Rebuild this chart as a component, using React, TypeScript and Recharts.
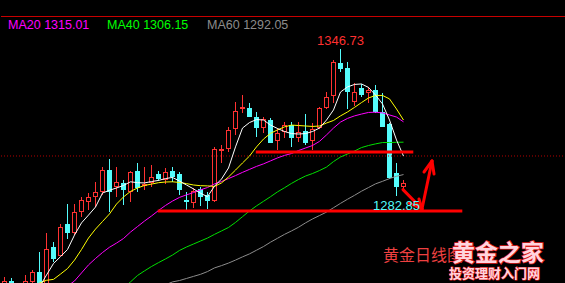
import { Bar, ComposedChart, Line, ReferenceDot, ReferenceLine, XAxis, YAxis } from "recharts";

const RED = "#ff3232";
const CYAN = "#54fcfc";

// daily candles, oldest first
const open = [
  1244.0, 1245.9, 1242.0, 1243.5, 1245.4, 1249.6, 1243.1, 1260.4, 1256.7, 1270.5,
  1266.7, 1275.8, 1280.3, 1282.4, 1284.4, 1294.1, 1286.8, 1288.3, 1284.6, 1293.8,
  1287.2, 1288.3, 1292.3, 1289.7, 1293.6, 1292.2, 1281.0, 1279.8, 1285.6, 1283.2,
  1280.7, 1302.5, 1303.1, 1311.8, 1320.5, 1320.9, 1317.3, 1312.2, 1315.8, 1306.8,
  1310.7, 1313.6, 1307.8, 1311.2, 1306.8, 1312.2, 1320.9, 1326.1, 1340.6, 1338.3,
  1323.5, 1329.6, 1327.4, 1328.9, 1319.4, 1314.1, 1292.9, 1286.5,
];
const high = [
  1247.6, 1247.0, 1244.0, 1248.3, 1250.5, 1258.3, 1266.7, 1262.7, 1270.5, 1279.3,
  1279.3, 1282.4, 1284.2, 1289.0, 1295.2, 1298.9, 1295.2, 1289.7, 1293.8, 1297.0,
  1295.2, 1296.2, 1293.6, 1294.9, 1295.2, 1293.2, 1284.6, 1286.1, 1286.8, 1284.6,
  1304.2, 1304.9, 1312.9, 1323.8, 1326.7, 1323.3, 1319.3, 1317.3, 1316.6, 1312.2,
  1315.1, 1315.1, 1315.1, 1318.4, 1314.6, 1321.6, 1328.1, 1341.9, 1346.73, 1341.2,
  1331.8, 1331.5, 1330.1, 1331.1, 1327.7, 1314.5, 1297.2, 1289.7,
];
const low = [
  1242.7, 1241.8, 1240.5, 1242.2, 1244.4, 1241.8, 1242.2, 1254.0, 1256.4, 1264.0,
  1265.8, 1273.7, 1276.6, 1278.1, 1283.2, 1275.9, 1282.4, 1278.8, 1280.0, 1284.6,
  1285.4, 1286.8, 1289.2, 1288.0, 1289.0, 1283.2, 1276.6, 1277.4, 1278.4, 1276.9,
  1280.3, 1297.2, 1302.0, 1309.3, 1318.7, 1316.9, 1308.6, 1310.3, 1305.7, 1302.7,
  1307.8, 1303.9, 1306.4, 1304.9, 1302.7, 1311.8, 1320.5, 1323.1, 1336.8, 1320.6,
  1321.9, 1326.0, 1323.3, 1319.0, 1312.6, 1290.0, 1282.85, 1285.0,
];
const close = [
  1245.9, 1243.1, 1243.2, 1245.7, 1249.6, 1242.7, 1259.6, 1255.3, 1269.1, 1266.7,
  1275.6, 1281.0, 1282.2, 1284.4, 1294.1, 1284.6, 1289.0, 1285.4, 1293.1, 1286.1,
  1288.0, 1291.1, 1290.1, 1293.3, 1291.1, 1285.4, 1280.0, 1284.9, 1282.4, 1280.7,
  1303.2, 1303.2, 1311.5, 1319.7, 1321.3, 1317.3, 1312.2, 1316.1, 1305.9, 1310.3,
  1313.6, 1307.8, 1310.7, 1305.9, 1311.9, 1320.9, 1326.0, 1341.1, 1337.9, 1328.1,
  1327.9, 1326.7, 1328.9, 1319.4, 1312.9, 1290.4, 1286.5, 1288.5,
];

const ma5 = [
  null, null, null, null, null, 1243.1, 1248.3, 1253.3, 1256.3, 1259.4,
  1265.7, 1271.0, 1274.4, 1277.9, 1284.0, 1285.2, 1286.2, 1287.3, 1288.9, 1288.5,
  1288.4, 1289.0, 1289.5, 1290.3, 1290.8, 1289.2, 1287.5, 1285.8, 1283.9, 1282.4,
  1287.0, 1290.1, 1294.9, 1304.1, 1312.3, 1314.7, 1316.0, 1315.8, 1313.6, 1312.1,
  1310.8, 1309.9, 1309.7, 1309.9, 1310.8, 1312.3, 1315.8, 1320.2, 1328.0, 1330.2,
  1331.3, 1331.5, 1330.0, 1326.7, 1322.8, 1315.8, 1307.1, 1300.1,
];
const ma10 = [
  null, null, null, null, 1243.5, 1244.8, 1246.0, 1246.4, 1248.7, 1251.1,
  1254.8, 1259.4, 1264.4, 1268.3, 1271.6, 1274.9, 1279.2, 1282.3, 1284.7, 1286.2,
  1287.3, 1287.9, 1288.5, 1288.8, 1288.9, 1288.6, 1288.1, 1287.5, 1287.2, 1287.1,
  1286.9, 1288.4, 1291.0, 1294.0, 1297.1, 1300.1, 1304.1, 1307.5, 1310.0, 1311.5,
  1312.8, 1313.6, 1313.4, 1313.2, 1313.0, 1313.2, 1314.5, 1315.6, 1317.6, 1319.3,
  1321.3, 1323.4, 1325.4, 1326.5, 1326.5, 1325.0, 1320.6, 1315.8,
];
const ma20 = [
  null, null, null, null, null, null, null, null, null, 1243.5,
  1245.7, 1249.2, 1252.7, 1255.5, 1258.1, 1260.4, 1262.2, 1264.2, 1267.0, 1269.4,
  1271.8, 1274.0, 1276.4, 1278.6, 1280.5, 1282.1, 1283.2, 1284.2, 1285.4, 1286.4,
  1288.0, 1289.0, 1290.3, 1291.6, 1293.0, 1294.3, 1295.6, 1296.7, 1298.0, 1299.3,
  1300.4, 1301.2, 1302.5, 1303.6, 1304.7, 1306.5, 1309.3, 1312.3, 1314.9, 1316.5,
  1317.6, 1318.4, 1319.1, 1319.2, 1318.9, 1318.0, 1317.1, 1315.01,
];
const ma40 = [
  null, null, null, null, null, null, null, null, null, null,
  null, null, null, null, null, null, null, 1242.7, 1245.3, 1248.1,
  1250.1, 1252.0, 1253.7, 1255.3, 1257.0, 1259.0, 1260.5, 1261.8, 1263.1, 1264.4,
  1266.0, 1267.5, 1269.0, 1271.2, 1273.7, 1276.2, 1278.4, 1280.4, 1282.4, 1284.5,
  1286.3, 1288.2, 1289.9, 1291.4, 1292.5, 1293.8, 1295.3, 1297.7, 1299.7, 1301.0,
  1302.3, 1303.8, 1304.7, 1305.4, 1306.0, 1306.0, 1306.1, 1306.15,
];
const ma60 = [
  null, null, null, null, null, null, null, null, null, null,
  null, null, null, null, null, null, null, null, null, null,
  null, null, null, 1244.0, 1245.3, 1245.9, 1246.8, 1247.7, 1248.6, 1249.8,
  1251.4, 1252.4, 1253.5, 1254.8, 1256.2, 1257.5, 1259.1, 1260.7, 1262.6, 1264.3,
  1266.0, 1267.5, 1269.1, 1271.0, 1272.7, 1274.2, 1275.7, 1277.6, 1279.5, 1281.3,
  1283.0, 1284.8, 1286.4, 1288.0, 1289.1, 1290.3, 1291.3, 1292.05,
];

// marked swing high / low (candle index)
const swingHigh = 48;
const swingLow = 56;

// hand drawn support lines and arrows (x in candle slots, y in price)
const supports = [
  { from: 35.9, to: 58.4, price: 1301.9 },
  { from: 21.9, to: 65.4, price: 1276.2 },
];
const arrows = [
  [{ x: 56.93, y: 1285.5 }, { x: 59.64, y: 1277.05 }],
  [{ x: 57.79, y: 1279.66 }, { x: 59.64, y: 1277.05 }],
  [{ x: 59.21, y: 1281.4 }, { x: 59.64, y: 1277.05 }],
  [{ x: 59.64, y: 1277.05 }, { x: 61.07, y: 1297.96 }],
  [{ x: 59.93, y: 1293.16 }, { x: 61.07, y: 1297.96 }],
  [{ x: 61.36, y: 1292.3 }, { x: 61.07, y: 1297.96 }],
];
const dottedLevel = 1300.13;

const Y_MIN = 1244.82;
const Y_MAX = 1361.1;
const X_MIN = -0.5;
const X_MAX = 80.214;

const rows = open.map((o, i) => ({
  i,
  open: o,
  high: high[i],
  low: low[i],
  close: close[i],
  range: [low[i], high[i]],
  ma5: ma5[i],
  ma10: ma10[i],
  ma20: ma20[i],
  ma40: ma40[i],
  ma60: ma60[i],
}));

const last = (a: (number | null)[]) => (a[a.length - 1] as number).toFixed(2);

function Candle(props: any) {
  const { x, y, width, height, payload } = props;
  if (!payload) return null;
  const { open: o, close: c, high: h, low: l } = payload;
  const top = Math.min(y, y + height);
  const span = Math.abs(height);
  const toY = (v: number) => top + ((h - v) / (h - l)) * span;
  const cx = x + width / 2;
  const up = c >= o;
  const color = up ? RED : CYAN;
  const bTop = toY(Math.max(o, c));
  const bH = Math.max(toY(Math.min(o, c)) - bTop, 1);
  if (!up) {
    return (
      <g shapeRendering="crispEdges">
        <line x1={cx} x2={cx} y1={top} y2={top + span} stroke={color} />
        <rect x={x} y={bTop} width={width} height={bH} fill={color} />
      </g>
    );
  }
  return (
    <g shapeRendering="crispEdges">
      <line x1={cx} x2={cx} y1={top} y2={bTop} stroke={color} />
      <line x1={cx} x2={cx} y1={bTop + bH} y2={top + span} stroke={color} />
      {bH > 2 ? (
        <rect x={x + 0.5} y={bTop + 0.5} width={width - 1} height={bH - 1} fill="none" stroke={color} />
      ) : (
        <rect x={x} y={bTop} width={width} height={bH} fill={color} />
      )}
    </g>
  );
}

export default function App() {
  return (
    <div style={{ position: "absolute", left: 0, top: 0, width: 565, height: 283, background: "#000", overflow: "hidden" }}>
      <ComposedChart width={567} height={283} data={rows} margin={{ top: 16, right: 1, bottom: 0, left: 1 }}>
        <XAxis dataKey="i" type="number" domain={[X_MIN, X_MAX]} allowDataOverflow hide />
        <YAxis domain={[Y_MIN, Y_MAX]} allowDataOverflow hide />
        <ReferenceLine y={Y_MAX} stroke="#c80000" shapeRendering="crispEdges" />
        <ReferenceLine y={dottedLevel} stroke="#b40000" strokeDasharray="1 2" />
        <Line dataKey="ma60" stroke="#8c8c8c" strokeWidth={1} dot={false} isAnimationActive={false} />
        <Line dataKey="ma40" stroke="#00e000" strokeWidth={1} dot={false} isAnimationActive={false} />
        <Line dataKey="ma20" stroke="#ff00ff" strokeWidth={1} dot={false} isAnimationActive={false} />
        <Line dataKey="ma10" stroke="#ffff00" strokeWidth={1} dot={false} isAnimationActive={false} />
        <Line dataKey="ma5" stroke="#ffffff" strokeWidth={1} dot={false} isAnimationActive={false} />
        <Bar dataKey="range" barSize={5} shape={(p: any) => <Candle {...p} />} isAnimationActive={false} />
        {supports.map((s, k) => (
          <ReferenceLine
            key={"s" + k}
            segment={[{ x: s.from, y: s.price }, { x: s.to, y: s.price }]}
            stroke="#ff0000"
            strokeWidth={3}
          />
        ))}
        <ReferenceDot
          x={swingHigh}
          y={high[swingHigh]}
          r={0}
          fill="none"
          stroke="none"
          label={{ value: high[swingHigh].toFixed(2), position: "top", offset: 3.5, fill: "#ff3030", fontSize: 13, fontFamily: "Liberation Sans" }}
        />
        <ReferenceDot
          x={swingLow}
          y={low[swingLow]}
          r={0}
          fill="none"
          stroke="none"
          label={{ value: low[swingLow].toFixed(2), position: "bottom", offset: 5, fill: CYAN, fontSize: 13, fontFamily: "Liberation Sans" }}
        />
        {arrows.map((a, k) => (
          <ReferenceLine key={"a" + k} segment={a} stroke="#ff0000" strokeWidth={3} strokeLinecap="round" />
        ))}
      </ComposedChart>
      <svg width={565} height={283} style={{ position: "absolute", left: 0, top: 0, pointerEvents: "none" }}>
        <g fontFamily="Liberation Sans" fontSize={12.5}>
          <text x={8} y={29} fill="#ff00ff">MA20 {last(ma20)}</text>
          <text x={107} y={29} fill="#00ff00">MA40 {last(ma40)}</text>
          <text x={207} y={29} fill="#8c8c8c">MA60 {last(ma60)}</text>
        </g>
        <text x={383} y={261} fill="#ee4040" fontSize={16} fontFamily="Noto Sans CJK SC">黄金日线图</text>
        <text x={452} y={261} fill="#ffd4de" stroke="#d81c1c" strokeWidth={1.6} paintOrder="stroke" fontSize={23} fontWeight="bold" fontFamily="Noto Sans CJK SC">黄金之家</text>
        <text x={449} y={277.5} fill="#ffd4de" stroke="#d81c1c" strokeWidth={1.2} paintOrder="stroke" fontSize={13} fontWeight="bold" fontFamily="Noto Sans CJK SC">投资理财入门网</text>
      </svg>
    </div>
  );
}
